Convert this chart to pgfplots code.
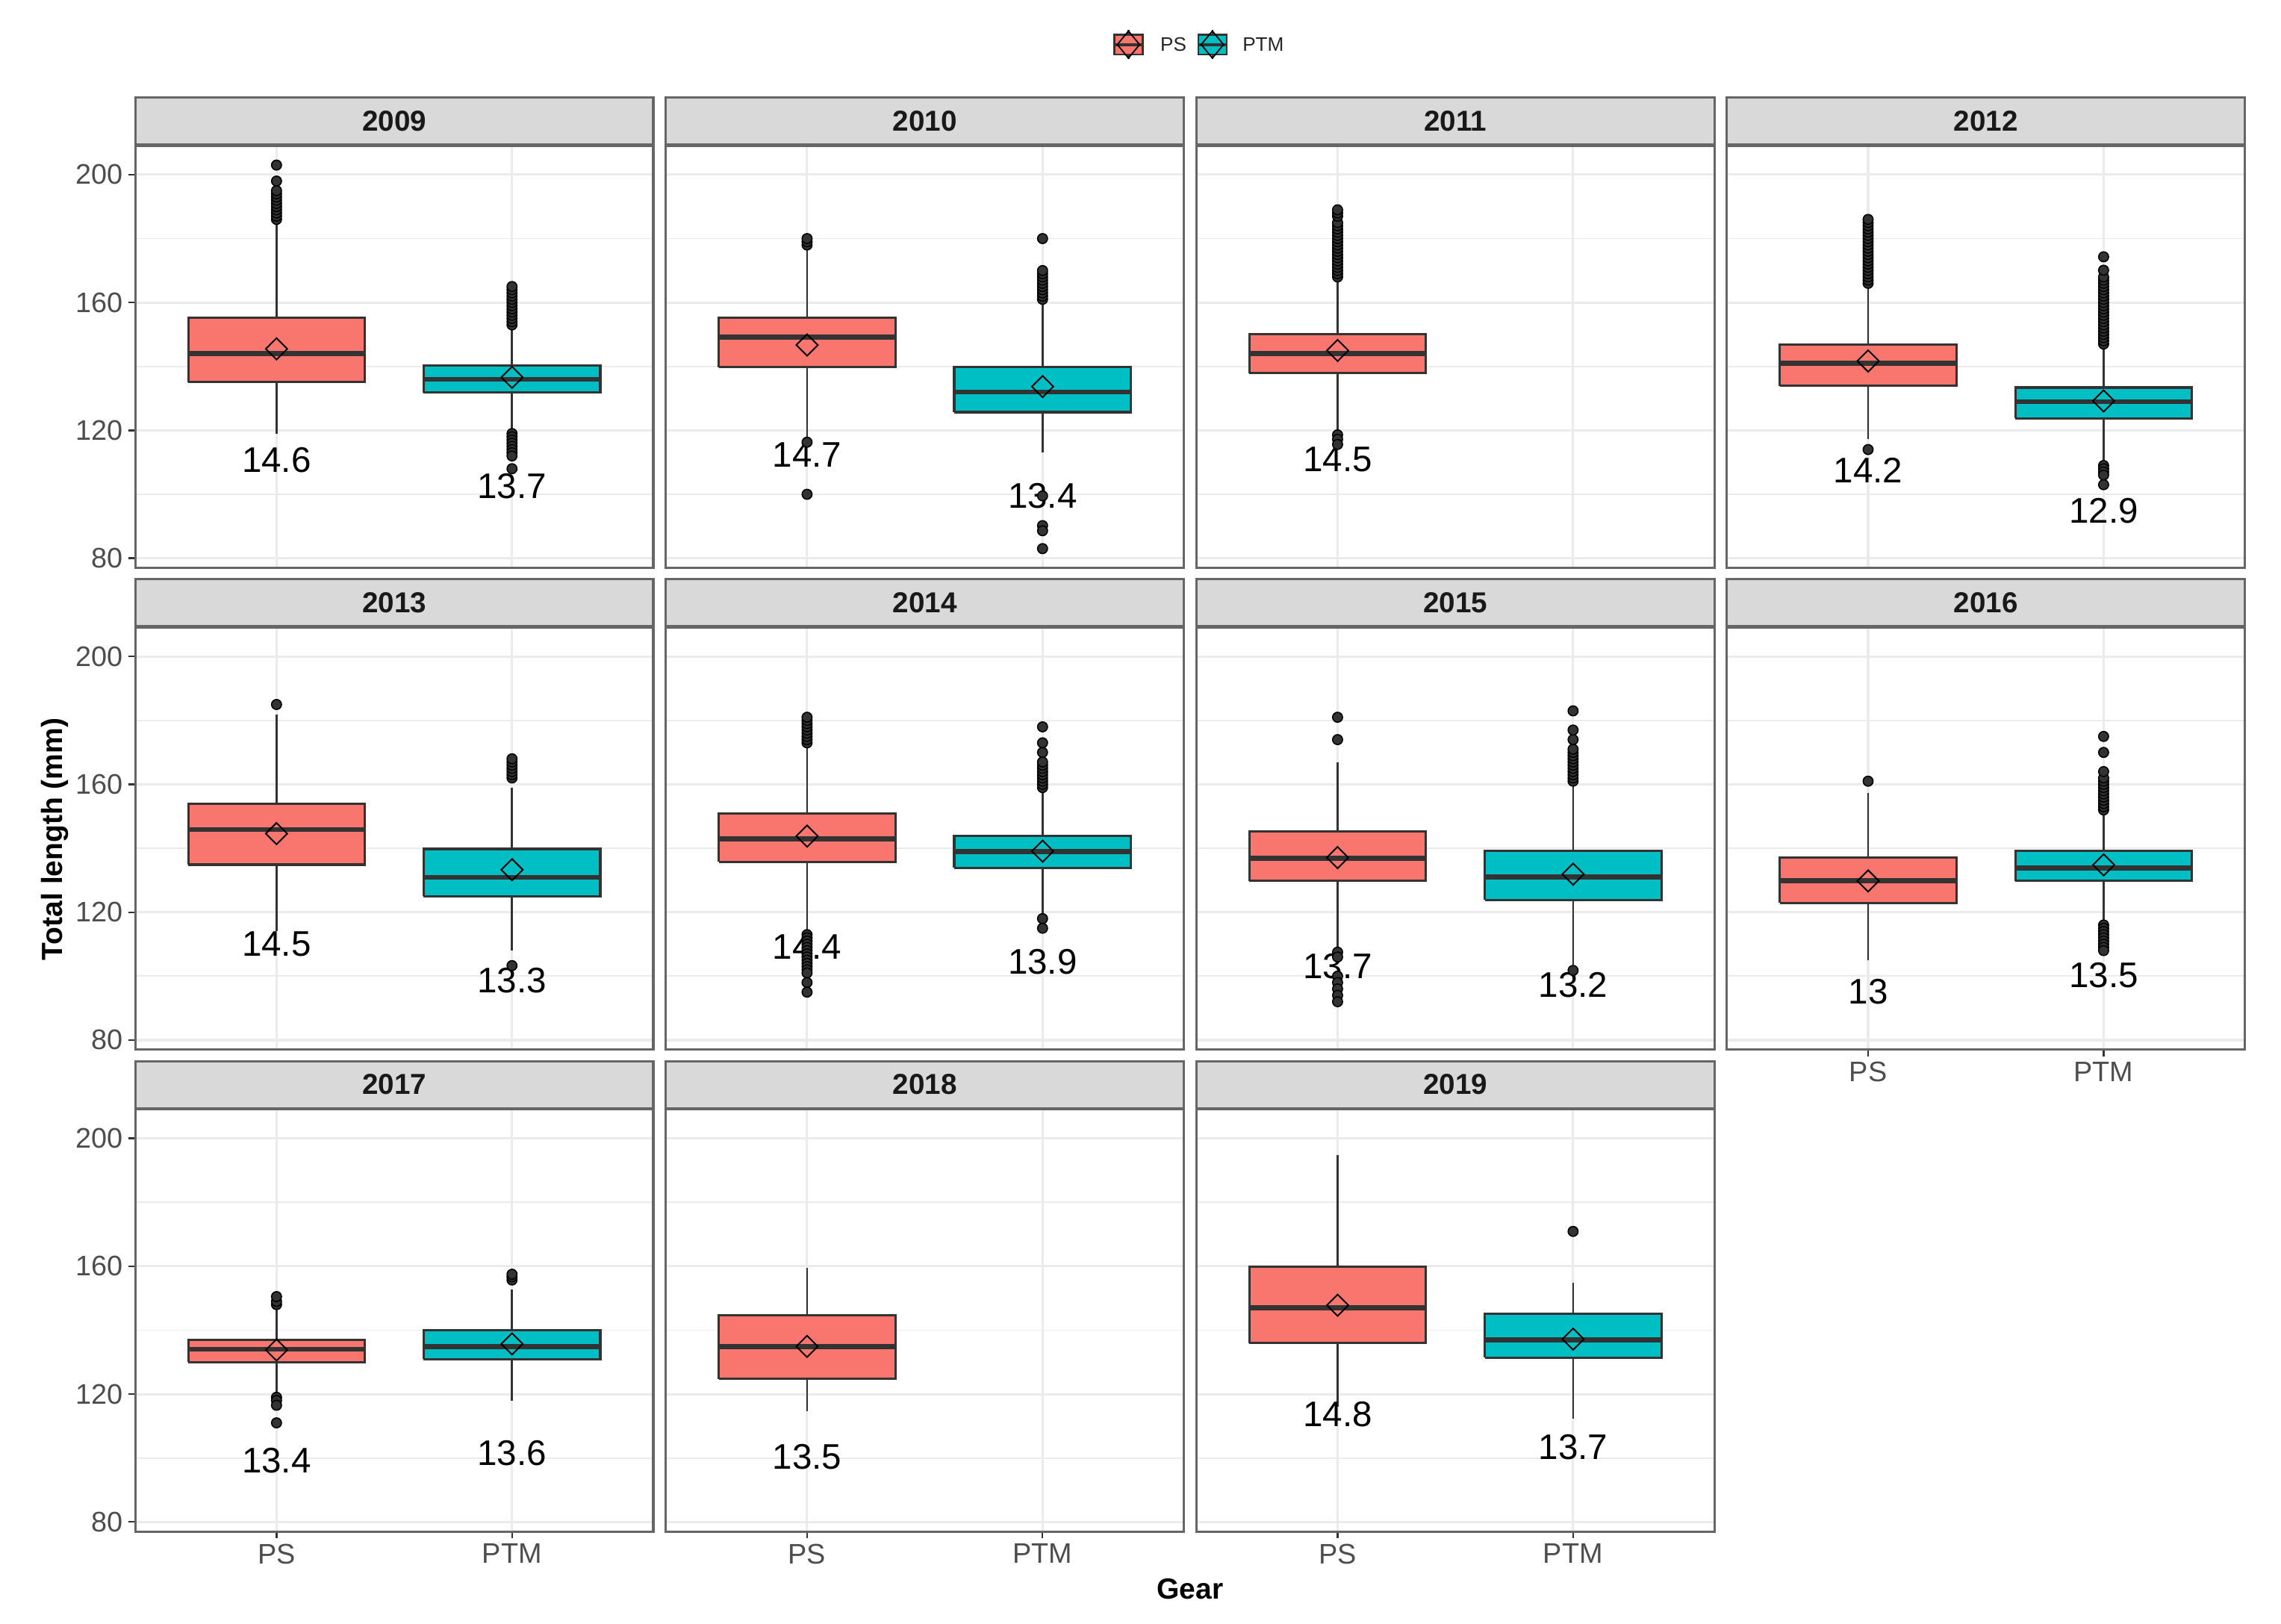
\documentclass[border=0pt]{standalone}
\usepackage{fontspec}
\setmainfont{Liberation Sans}
\usepackage{pgfplots}
\pgfplotsset{compat=1.18}

\definecolor{psc}{HTML}{F8766D}
\definecolor{ptmc}{HTML}{00BFC4}
\definecolor{linec}{HTML}{333333}
\definecolor{gridc}{HTML}{EBEBEB}
\definecolor{stripc}{HTML}{D9D9D9}
\definecolor{borderc}{HTML}{666666}
\definecolor{tickc}{HTML}{4D4D4D}

\newcommand\tickfont{\fontsize{9.7}{11}\selectfont}
\newcommand\vlfont{\fontsize{12.2}{13}\selectfont}
\newcommand\stripfont{\fontsize{9.9}{11}\selectfont\bfseries}
\newcommand\titlefont{\fontsize{10}{11}\selectfont\bfseries}
\newcommand\legfont{\fontsize{6.7}{7}\selectfont}

\pgfplotsset{
  panel/.style={
    scale only axis, width=177.2bp, height=144.35bp, anchor=south west,
    xmin=0.4, xmax=2.6, ymin=77, ymax=209.05,
    xtick={1,2}, xticklabels={PS,PTM},
    ytick={80,120,160,200}, minor ytick={100,140,180},
    grid=both,
    major grid style={draw=gridc, line width=0.8bp},
    minor grid style={draw=gridc, line width=0.45bp},
    axis line style={draw=borderc, line width=0.8bp},
    tick pos=left, tick align=outside,
    major tick length=2.25bp, minor tick length=0pt,
    tick style={draw=linec, line width=0.6bp},
    ticklabel style={font=\tickfont, text=tickc},
    xticklabel style={inner sep=1.8bp},
    yticklabel style={inner sep=1.8bp},
    /pgf/number format/assume math mode=true,
  },
  noxlab/.style={xticklabels={,,}, xtick style={draw=none}},
  noylab/.style={yticklabels={,,,,}, ytick style={draw=none}},
  whisk/.style={draw=linec, line width=0.7bp},
  boxfill/.style={draw=linec, line width=0.8bp, line join=miter},
  medline/.style={draw=linec, line width=1.7bp},
  meanmark/.style={only marks, mark=square, mark size=2.6bp,
    mark options={rotate=45, draw=black, fill=none, line width=0.5bp}},
  outl/.style={only marks, mark=*, mark size=1.7bp,
    mark options={draw=none, fill=linec}},
}
\tikzset{
  vlab/.style={font=\vlfont, inner sep=0pt, text=black},
  strip/.style={anchor=south, fill=stripc, draw=borderc, line width=0.8bp,
    minimum width=177.2bp, minimum height=16.15bp, inner sep=0pt,
    font=\stripfont, text={black!90}},
}

% box at x = 1 (PS): #1 lower whisker, #2 Q1, #3 median, #4 Q3, #5 upper whisker, #6 mean
\newcommand\boxPS[6]{%
  \addplot[whisk] coordinates {(1,#4)(1,#5)};
  \addplot[whisk] coordinates {(1,#1)(1,#2)};
  \addplot[boxfill, fill=psc] coordinates {(0.625,#2)(1.375,#2)(1.375,#4)(0.625,#4)(0.625,#2)};
  \addplot[medline] coordinates {(0.625,#3)(1.375,#3)};
  \addplot[meanmark] coordinates {(1,#6)};
}
% box at x = 2 (PTM)
\newcommand\boxPTM[6]{%
  \addplot[whisk] coordinates {(2,#4)(2,#5)};
  \addplot[whisk] coordinates {(2,#1)(2,#2)};
  \addplot[boxfill, fill=ptmc] coordinates {(1.625,#2)(2.375,#2)(2.375,#4)(1.625,#4)(1.625,#2)};
  \addplot[medline] coordinates {(1.625,#3)(2.375,#3)};
  \addplot[meanmark] coordinates {(2,#6)};
}

\begin{document}
\begin{tikzpicture}
\useasboundingbox (0,0) rectangle (780.15bp,555.3bp);

% ---- row 1 ----
\begin{axis}[panel, noxlab, at={(46.25bp,361.1bp)}]
  \addplot[outl] coordinates {(1,186)(1,187)(1,188)(1,189)(1,190)(1,191)(1,192)(1,193)(1,194)(1,195)(1,198)(1,203)};
  \boxPS{119}{135.1}{144.1}{155.3}{185}{145.5}
  \addplot[outl] coordinates {(2,153)(2,154)(2,155)(2,156)(2,157)(2,158)(2,159)(2,160)(2,161)(2,162)(2,163)(2,164)(2,165)
    (2,119)(2,118)(2,117)(2,116)(2,115)(2,114)(2,113)(2,112)(2,108)};
  \boxPTM{120.5}{131.8}{136.0}{140.2}{152}{136.6}
  \node[vlab] at (axis cs:1,110.7) {14.6};
  \node[vlab] at (axis cs:2,102.6) {13.7};
\end{axis}
\node[strip] at (134.85bp,505.45bp) {2009};

\begin{axis}[panel, noxlab, noylab, at={(227.7bp,361.1bp)}]
  \addplot[outl] coordinates {(1,178)(1,179)(1,180)(1,116.3)(1,100)};
  \boxPS{117.3}{139.8}{149.1}{155.2}{177}{146.7}
  \addplot[outl] coordinates {(2,161)(2,162)(2,163)(2,164)(2,165)(2,166)(2,167)(2,168)(2,169)(2,170)(2,180)
    (2,99.5)(2,90.2)(2,88.6)(2,83)};
  \boxPTM{113}{125.7}{132.0}{139.8}{160.5}{133.7}
  \node[vlab] at (axis cs:1,112.4) {14.7};
  \node[vlab] at (axis cs:2,99.6) {13.4};
\end{axis}
\node[strip] at (316.3bp,505.45bp) {2010};

\begin{axis}[panel, noxlab, noylab, at={(409.15bp,361.1bp)}]
  \addplot[outl] coordinates {(1,168)(1,169)(1,170)(1,171)(1,172)(1,173)(1,174)(1,175)(1,176)(1,177)(1,178)(1,179)
    (1,180)(1,181)(1,182)(1,183)(1,184)(1,185)(1,187)(1,188)(1,189)(1,118.6)(1,117.2)(1,115.6)};
  \boxPS{119.3}{137.9}{144.0}{150.1}{167.5}{145.0}
  \node[vlab] at (axis cs:1,110.9) {14.5};
\end{axis}
\node[strip] at (497.75bp,505.45bp) {2011};

\begin{axis}[panel, noxlab, noylab, at={(590.6bp,361.1bp)}]
  \addplot[outl] coordinates {(1,166)(1,167)(1,168)(1,169)(1,170)(1,171)(1,172)(1,173)(1,174)(1,175)(1,176)
    (1,177)(1,178)(1,179)(1,180)(1,181)(1,182)(1,183)(1,184)(1,185)(1,186)(1,114)};
  \boxPS{117.3}{133.9}{141.0}{146.9}{165.5}{141.7}
  \addplot[outl] coordinates {(2,147)(2,148)(2,149)(2,150)(2,151)(2,152)(2,153)(2,154)(2,155)(2,156)(2,157)
    (2,158)(2,159)(2,160)(2,161)(2,162)(2,163)(2,164)(2,165)(2,166)(2,167)(2,168)(2,170.1)(2,174.3)
    (2,109)(2,108)(2,107)(2,106)(2,103)};
  \boxPTM{110}{123.8}{129.0}{133.4}{146.5}{129.2}
  \node[vlab] at (axis cs:1,107.5) {14.2};
  \node[vlab] at (axis cs:2,94.9) {12.9};
\end{axis}
\node[strip] at (679.2bp,505.45bp) {2012};

% ---- row 2 ----
\begin{axis}[panel, noxlab, at={(46.25bp,196.3bp)}]
  \addplot[outl] coordinates {(1,185)};
  \boxPS{114}{134.9}{145.9}{153.9}{181.9}{144.6}
  \addplot[outl] coordinates {(2,162)(2,163)(2,164)(2,165)(2,166)(2,167)(2,168)(2,103.3)};
  \boxPTM{108}{125.0}{130.9}{139.8}{159}{133.3}
  \node[vlab] at (axis cs:1,110.1) {14.5};
  \node[vlab] at (axis cs:2,98.7) {13.3};
\end{axis}
\node[strip] at (134.85bp,340.65bp) {2013};

\begin{axis}[panel, noxlab, noylab, at={(227.7bp,196.3bp)}]
  \addplot[outl] coordinates {(1,173)(1,174)(1,175)(1,176)(1,177)(1,178)(1,179)(1,180)(1,181)
    (1,113)(1,112)(1,111)(1,110)(1,109)(1,108)(1,107)(1,106)(1,105)(1,104)(1,103)(1,102)(1,101)(1,98)(1,95)};
  \boxPS{113.9}{135.8}{142.9}{150.9}{172.5}{143.8}
  \addplot[outl] coordinates {(2,159)(2,160)(2,161)(2,162)(2,163)(2,164)(2,165)(2,166)(2,167)(2,170)(2,173)(2,178)
    (2,118)(2,115)};
  \boxPTM{119.4}{133.9}{139.0}{143.8}{158}{139.1}
  \node[vlab] at (axis cs:1,109.2) {14.4};
  \node[vlab] at (axis cs:2,104.6) {13.9};
\end{axis}
\node[strip] at (316.3bp,340.65bp) {2014};

\begin{axis}[panel, noxlab, noylab, at={(409.15bp,196.3bp)}]
  \addplot[outl] coordinates {(1,174)(1,181)(1,107.5)(1,106)(1,100)(1,98)(1,96)(1,94)(1,92)};
  \boxPS{108.3}{129.8}{136.9}{145.2}{166.9}{137.1}
  \addplot[outl] coordinates {(2,161)(2,162)(2,163)(2,164)(2,165)(2,166)(2,167)(2,168)(2,169)(2,170)(2,171)
    (2,174)(2,177)(2,183)(2,101.8)};
  \boxPTM{103.5}{123.8}{131.0}{139.3}{160.5}{131.9}
  \node[vlab] at (axis cs:1,103.0) {13.7};
  \node[vlab] at (axis cs:2,97.3) {13.2};
\end{axis}
\node[strip] at (497.75bp,340.65bp) {2015};

\begin{axis}[panel, noylab, at={(590.6bp,196.3bp)}]
  \addplot[outl] coordinates {(1,161)};
  \boxPS{105}{122.9}{129.8}{137.2}{157.2}{129.8}
  \addplot[outl] coordinates {(2,152)(2,153)(2,154)(2,155)(2,156)(2,157)(2,158)(2,159)(2,160)(2,161)(2,162)
    (2,164)(2,170)(2,175)
    (2,116)(2,115)(2,114)(2,113)(2,112)(2,111)(2,110)(2,109)(2,108)};
  \boxPTM{117.3}{129.8}{133.9}{139.3}{151.8}{134.8}
  \node[vlab] at (axis cs:1,95.2) {13};
  \node[vlab] at (axis cs:2,100.2) {13.5};
\end{axis}
\node[strip] at (679.2bp,340.65bp) {2016};

% ---- row 3 ----
\begin{axis}[panel, at={(46.25bp,31.5bp)}]
  \addplot[outl] coordinates {(1,148)(1,149)(1,150.5)(1,119)(1,118)(1,116.5)(1,111)};
  \boxPS{120}{130.0}{134.0}{137.0}{147.5}{133.8}
  \addplot[outl] coordinates {(2,155.7)(2,156.7)(2,157.5)};
  \boxPTM{118}{130.9}{134.9}{139.9}{152.8}{135.7}
  \node[vlab] at (axis cs:1,99.2) {13.4};
  \node[vlab] at (axis cs:2,101.5) {13.6};
\end{axis}
\node[strip] at (134.85bp,175.85bp) {2017};

\begin{axis}[panel, noylab, at={(227.7bp,31.5bp)}]
  \boxPS{114.7}{124.8}{134.8}{144.6}{159.5}{134.9}
  \node[vlab] at (axis cs:1,100.4) {13.5};
\end{axis}
\node[strip] at (316.3bp,175.85bp) {2018};

\begin{axis}[panel, noylab, at={(409.15bp,31.5bp)}]
  \boxPS{116}{136.0}{147.0}{159.9}{194.8}{147.8}
  \addplot[outl] coordinates {(2,170.9)};
  \boxPTM{112.2}{131.4}{137.0}{145.1}{154.9}{137.2}
  \node[vlab] at (axis cs:1,113.6) {14.8};
  \node[vlab] at (axis cs:2,103.3) {13.7};
\end{axis}
\node[strip] at (497.75bp,175.85bp) {2019};

% ---- axis titles ----
\node[font=\titlefont, inner sep=0pt, rotate=90] at (18.75bp,268.3bp) {Total length (mm)};
\node[font=\titlefont, inner sep=0pt] at (407bp,11.8bp) {Gear};

% ---- legend ----
\begin{scope}[line width=0.6bp]
  \draw[linec] (385.95bp,535.05bp) -- (385.95bp,545.05bp);
  \filldraw[fill=psc, draw=linec] (381.1bp,536.7bp) rectangle (390.8bp,543.4bp);
  \draw[linec, line width=1.1bp] (381.1bp,540.05bp) -- (390.8bp,540.05bp);
  \draw[black, line width=0.45bp] (385.95bp,535.4bp) -- (389.75bp,540.05bp) -- (385.95bp,544.7bp) -- (382.15bp,540.05bp) -- cycle;
  \node[font=\legfont, inner sep=0pt, anchor=west, text=black!85] at (396.6bp,540.05bp) {PS};
  \draw[linec] (414.65bp,535.05bp) -- (414.65bp,545.05bp);
  \filldraw[fill=ptmc, draw=linec] (409.8bp,536.7bp) rectangle (419.5bp,543.4bp);
  \draw[linec, line width=1.1bp] (409.8bp,540.05bp) -- (419.5bp,540.05bp);
  \draw[black, line width=0.45bp] (414.65bp,535.4bp) -- (418.45bp,540.05bp) -- (414.65bp,544.7bp) -- (410.85bp,540.05bp) -- cycle;
  \node[font=\legfont, inner sep=0pt, anchor=west, text=black!85] at (424.7bp,540.05bp) {PTM};
\end{scope}
\end{tikzpicture}
\end{document}
